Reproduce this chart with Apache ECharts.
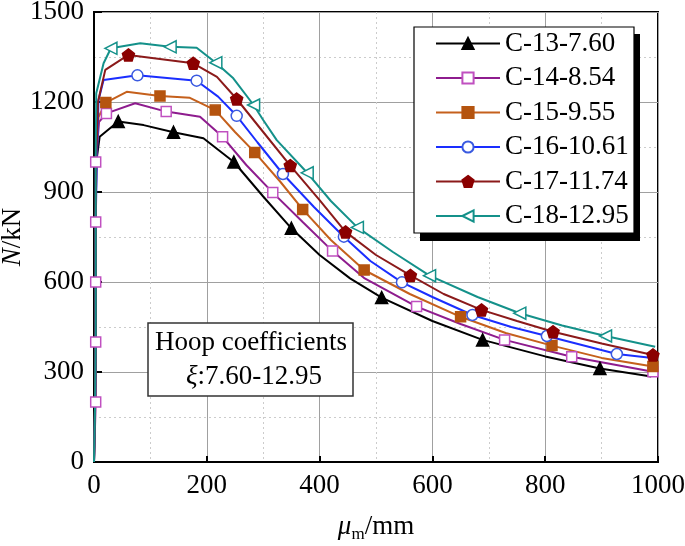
<!DOCTYPE html>
<html><head><meta charset="utf-8">
<script src="https://cdn.jsdelivr.net/npm/echarts@6/dist/echarts.min.js"></script>
<style>html,body{margin:0;padding:0;background:#fff}#c{width:685px;height:546px}</style>
</head><body><div id="c"></div>
<script>
// ---- data (x: mu_m in mm, y: N in kN) ----
const seriesNames = ['C-13-7.60','C-14-8.54','C-15-9.55','C-16-10.61','C-17-11.74','C-18-12.95'];

const c13 = [[0,0],[2,200],[3,400],[3,600],[3,800],[4,1000],[10,1084],[43,1135],[88,1123],[141,1099],[194,1079],[248,1000],[300,885],[350,779],[400,690],[454,612],[510,548],[600,470],[689,407],[800,352],[897,312],[988,285]];
const c13Marked = [7,9,11,13,16,18,20];

const c14 = [[0,0],[3,200],[3,400],[3,600],[3,800],[3,1000],[9,1134],[22,1162],[73,1196],[128,1168],[188,1151],[228,1084],[270,990],[317,898],[370,800],[423,703],[480,612],[572,518],[650,460],[728,407],[847,351],[991,301]];
const c14Marked = [1,2,3,4,5,7,9,11,13,15,17,19,20,21];

const c15 = [[0,0],[2,200],[3,400],[3,600],[3,800],[4,1000],[8,1150],[21,1198],[58,1234],[117,1220],[170,1214],[215,1173],[250,1100],[285,1032],[330,935],[370,842],[420,740],[479,640],[560,560],[650,484],[730,430],[812,388],[900,347],[991,318]];
const c15Marked = [7,9,11,13,15,17,19,21,23];

const c16 = [[0,0],[2,200],[3,400],[3,600],[3,800],[5,1000],[8,1207],[17,1273],[77,1289],[182,1271],[220,1218],[253,1154],[290,1065],[335,960],[390,850],[443,751],[490,670],[546,599],[600,550],[671,490],[740,450],[803,420],[927,360],[990,347]];
const c16Marked = [8,9,11,13,15,17,19,21,22];

const c17 = [[0,0],[2,200],[3,400],[3,600],[3,800],[4,1000],[7,1200],[20,1307],[61,1357],[176,1329],[218,1284],[253,1210],[300,1100],[348,988],[400,873],[446,767],[500,690],[561,622],[620,560],[687,507],[750,470],[814,434],[900,395],[991,357]];
const c17Marked = [8,9,11,13,15,17,19,21,23];

const c18 = [[0,0],[2,200],[3,400],[3,600],[3,800],[3,1000],[4,1229],[17,1329],[30,1379],[82,1396],[135,1384],[182,1381],[216,1331],[247,1279],[283,1190],[300,1140],[324,1073],[378,964],[420,870],[467,782],[530,700],[595,621],[680,550],[755,496],[830,455],[907,420],[995,384]];
const c18Marked = [8,10,12,14,17,19,21,23,25];

// ---- styling ----
const FONT = '"Liberation Serif", "Times New Roman", serif';
const pentagon = 'path://M50,0 L100,36 L81,95 L19,95 L0,36 Z';
const triLeft = 'path://M0,50 L100,0 L100,100 Z';

const styles = [
  {line:'#000000', fill:'#000000', border:'#000000', symbol:'triangle', size:12},
  {line:'#8E1C8E', fill:'#ffffff', border:'#C050C0', symbol:'rect', size:10},
  {line:'#C5601C', fill:'#B5540F', border:'#B5540F', symbol:'rect', size:10},
  {line:'#1A2EFF', fill:'#ffffff', border:'#3A5AE0', symbol:'circle', size:11},
  {line:'#8B1A1A', fill:'#8B0000', border:'#8B0000', symbol:pentagon, size:12},
  {line:'#14918A', fill:'#ffffff', border:'#14918A', symbol:triLeft, size:12}
];

const allPoints = [c13,c14,c15,c16,c17,c18];
const allMarked = [c13Marked,c14Marked,c15Marked,c16Marked,c17Marked,c18Marked];

function build(points, marked){
  return points.map((p,i)=> marked.indexOf(i) >= 0 ? {value:p} : {value:p, symbol:'none'});
}

const series = seriesNames.map((name,k)=>({
  name: name,
  type: 'line',
  data: build(allPoints[k], allMarked[k]),
  symbol: styles[k].symbol,
  symbolSize: styles[k].size,
  showSymbol: true,
  showAllSymbol: true,
  lineStyle: {color: styles[k].line, width: 2},
  itemStyle: {color: styles[k].fill, borderColor: styles[k].border, borderWidth: 1.5},
  emphasis: {disabled: true},
  animation: false,
  z: 2
}));

const plainLabel = v => String(v);

const chart = echarts.init(document.getElementById('c'), null, {renderer:'canvas'});
chart.setOption({
  animation: false,
  backgroundColor: '#ffffff',
  grid: {left: 94, right: 27, top: 12, bottom: 84, containLabel: false, outerBoundsMode: 'none',
         show: true, borderColor: '#000', borderWidth: 2, backgroundColor: 'transparent'},
  legend: {
    orient: 'vertical',
    left: 414, top: 27,
    data: seriesNames,
    itemWidth: 64, itemHeight: 14, itemGap: 7.5,
    padding: [3, 4, 5, 21],
    textStyle: {fontFamily: FONT, fontSize: 27, color: '#000', padding: [0,0,0,0]},
    selectedMode: false,
    z: 10
  },
  xAxis: {
    type: 'value', min: 0, max: 1000, interval: 200,
    name: '{i|μ}{s|m}/mm',
    nameLocation: 'middle', nameGap: 48,
    nameTextStyle: {fontFamily: FONT, fontSize: 27, color: '#000',
      rich: {i: {fontFamily: FONT, fontSize: 27, fontStyle: 'italic', color:'#000'},
             s: {fontFamily: FONT, fontSize: 17, color:'#000', padding: [16,0,0,0]}}},
    axisLine: {show: true, lineStyle: {color: '#000', width: 2}},
    axisTick: {show: true, inside: true, length: 6, lineStyle: {color: '#000', width: 2}},
    axisLabel: {fontFamily: FONT, fontSize: 27, color: '#000', margin: 10, formatter: plainLabel},
    splitLine: {show: true, lineStyle: {color: '#a0a0a0', width: 1}},
    minorTick: {show: false, splitNumber: 2},
    minorSplitLine: {show: true, lineStyle: {color: '#cccccc', width: 1, type: [2,3]}}
  },
  yAxis: {
    type: 'value', min: 0, max: 1500, interval: 300,
    name: '{i|N}/kN',
    nameLocation: 'middle', nameGap: 68, nameRotate: 90, nameMoveOverlap: false,
    nameTextStyle: {fontFamily: FONT, fontSize: 27, color: '#000',
      rich: {i: {fontFamily: FONT, fontSize: 27, fontStyle: 'italic', color:'#000'}}},
    axisLine: {show: true, lineStyle: {color: '#000', width: 2}},
    axisTick: {show: true, inside: true, length: 8, lineStyle: {color: '#000', width: 2}},
    axisLabel: {fontFamily: FONT, fontSize: 27, color: '#000', margin: 10, formatter: plainLabel},
    splitLine: {show: true, lineStyle: {color: '#a0a0a0', width: 1}},
    minorTick: {show: false, splitNumber: 2},
    minorSplitLine: {show: true, lineStyle: {color: '#cccccc', width: 1, type: [2,3]}}
  },
  graphic: [
    // legend frame with drop shadow
    {type: 'rect', z: 8, shape: {x: 420, y: 34, width: 220, height: 207},
     style: {fill: '#000'}},
    {type: 'rect', z: 9, shape: {x: 414, y: 27, width: 220, height: 206},
     style: {fill: '#fff', stroke: '#000', lineWidth: 1.2}},
    // annotation box
    {type: 'rect', z: 100, shape: {x: 148, y: 323, width: 205, height: 73},
     style: {fill: '#fff', stroke: '#333', lineWidth: 1.5}},
    {type: 'text', z: 101, x: 251, y: 343,
     style: {text: 'Hoop coefficients', fontFamily: FONT, fontSize: 27, fill: '#000', align: 'center', verticalAlign: 'middle'}},
    {type: 'text', z: 101, x: 254, y: 377,
     style: {text: '{i|ξ}:7.60-12.95', fontFamily: FONT, fontSize: 27, fill: '#000', align: 'center', verticalAlign: 'middle',
       rich: {i: {fontFamily: FONT, fontSize: 27, fontStyle: 'italic', fill: '#000'}}}}
  ],
  series: series
});
</script>
</body></html>
